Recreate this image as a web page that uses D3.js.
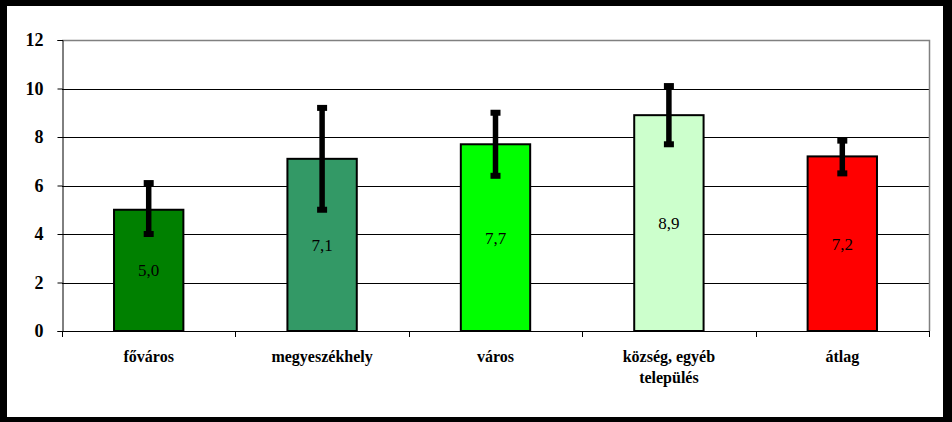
<!DOCTYPE html>
<html>
<head>
<meta charset="utf-8">
<script src="https://cdn.jsdelivr.net/npm/d3@7"></script>
</head>
<body style="margin:0">
<svg id="chart" width="952" height="422"></svg>
<script>
const categories = ["főváros", "megyeszékhely", "város", "község, egyéb település", "átlag"];
const categoryLines = [["főváros"], ["megyeszékhely"], ["város"], ["község, egyéb", "település"], ["átlag"]];
const values = [5.0, 7.1, 7.7, 8.9, 7.2];
const errLow = [4.0, 5.0, 6.4, 7.7, 6.5];
const errHigh = [6.1, 9.2, 9.0, 10.1, 7.85];
const colors = ["#008000", "#339966", "#00FF00", "#CCFFCC", "#FF0000"];
const yTicks = [0, 2, 4, 6, 8, 10, 12];

const FONT = "Liberation Serif";
const svg = d3.select("#chart");
const W = 952, H = 422;
const plot = { left: 62, right: 929, top: 40, bottom: 331 };

svg.append("rect").attr("width", W).attr("height", H).attr("fill", "#fff");

const x = d3.scaleBand().domain(categories).range([plot.left, plot.right]).paddingInner(0.6).paddingOuter(0.3);
const xOuter = d3.scaleBand().domain(categories).range([plot.left, plot.right]);
const y = d3.scaleLinear().domain([0, 12]).range([plot.bottom, plot.top]);

// gridlines
svg.append("g").selectAll("line").data(yTicks.filter(t => t > 0 && t < 12)).join("line")
  .attr("x1", plot.left).attr("x2", plot.right)
  .attr("y1", d => Math.round(y(d)) + 0.5).attr("y2", d => Math.round(y(d)) + 0.5)
  .attr("stroke", "#000").attr("stroke-width", 1);

// top and right border of plot (grey)
svg.append("path")
  .attr("d", `M${plot.left},${plot.top + 0.5}H${plot.right + 0.5}V${plot.bottom}`)
  .attr("fill", "none").attr("stroke", "#808080").attr("stroke-width", 1.5);

// y axis
const yAxis = d3.axisLeft(y).tickValues(yTicks).tickSize(5).tickPadding(14).tickFormat(d3.format("d"));
const gy = svg.append("g").attr("transform", `translate(${plot.left + 0.5},0)`).call(yAxis);
gy.attr("font-family", null).attr("font-size", null);
gy.select(".domain").attr("stroke", "#000");
gy.selectAll(".tick line").attr("stroke", "#000");
gy.selectAll(".tick text").attr("font-size", 18).attr("font-weight", "bold").attr("fill", "#000")
  .attr("font-family", FONT);

// x axis
const boundaries = categories.map(c => xOuter(c)).concat([plot.right]);
svg.append("line").attr("x1", plot.left).attr("x2", plot.right + 1)
  .attr("y1", plot.bottom + 0.5).attr("y2", plot.bottom + 0.5).attr("stroke", "#000");
svg.append("g").selectAll("line").data(boundaries).join("line")
  .attr("x1", d => Math.round(d) + 0.5).attr("x2", d => Math.round(d) + 0.5)
  .attr("y1", plot.bottom).attr("y2", plot.bottom + 6).attr("stroke", "#000");

// bars
svg.append("g").selectAll("rect").data(categories).join("rect")
  .attr("x", d => x(d)).attr("y", (d, i) => y(values[i]))
  .attr("width", x.bandwidth()).attr("height", (d, i) => y(0) - y(values[i]))
  .attr("fill", (d, i) => colors[i]).attr("stroke", "#000").attr("stroke-width", 2);

// value labels
categories.forEach((c, i) => {
  svg.append("text")
    .attr("x", x(c) + x.bandwidth() / 2)
    .attr("y", (y(values[i]) + y(0)) / 2 + 6)
    .attr("text-anchor", "middle").attr("font-size", 17).attr("fill", "#000").attr("font-family", FONT)
    .text(values[i].toFixed(1).replace(".", ","));
});

// error bars
const eg = svg.append("g");
categories.forEach((c, i) => {
  const cx = x(c) + x.bandwidth() / 2;
  eg.append("line").attr("x1", cx).attr("x2", cx)
    .attr("y1", y(errLow[i])).attr("y2", y(errHigh[i]))
    .attr("stroke", "#000").attr("stroke-width", 5.5);
  [errLow[i], errHigh[i]].forEach(v => {
    eg.append("rect").attr("x", cx - 5).attr("y", y(v) - 3).attr("width", 10).attr("height", 6).attr("fill", "#000");
  });
});

// x labels
categories.forEach((c, i) => {
  const cx = xOuter(c) + xOuter.bandwidth() / 2;
  categoryLines[i].forEach((line, j) => {
    svg.append("text").attr("x", cx).attr("y", 362 + j * 21)
      .attr("text-anchor", "middle").attr("font-size", 16).attr("font-weight", "bold").attr("fill", "#000")
      .attr("font-family", FONT).text(line);
  });
});

// outer black frame
svg.append("rect").attr("x", 0).attr("y", 0).attr("width", 7).attr("height", H).attr("fill", "#000");
svg.append("rect").attr("x", 0).attr("y", 0).attr("width", W).attr("height", 6).attr("fill", "#000");
svg.append("rect").attr("x", 943).attr("y", 0).attr("width", 9).attr("height", H).attr("fill", "#000");
svg.append("rect").attr("x", 0).attr("y", 417).attr("width", W).attr("height", 5).attr("fill", "#000");
</script>
</body>
</html>
